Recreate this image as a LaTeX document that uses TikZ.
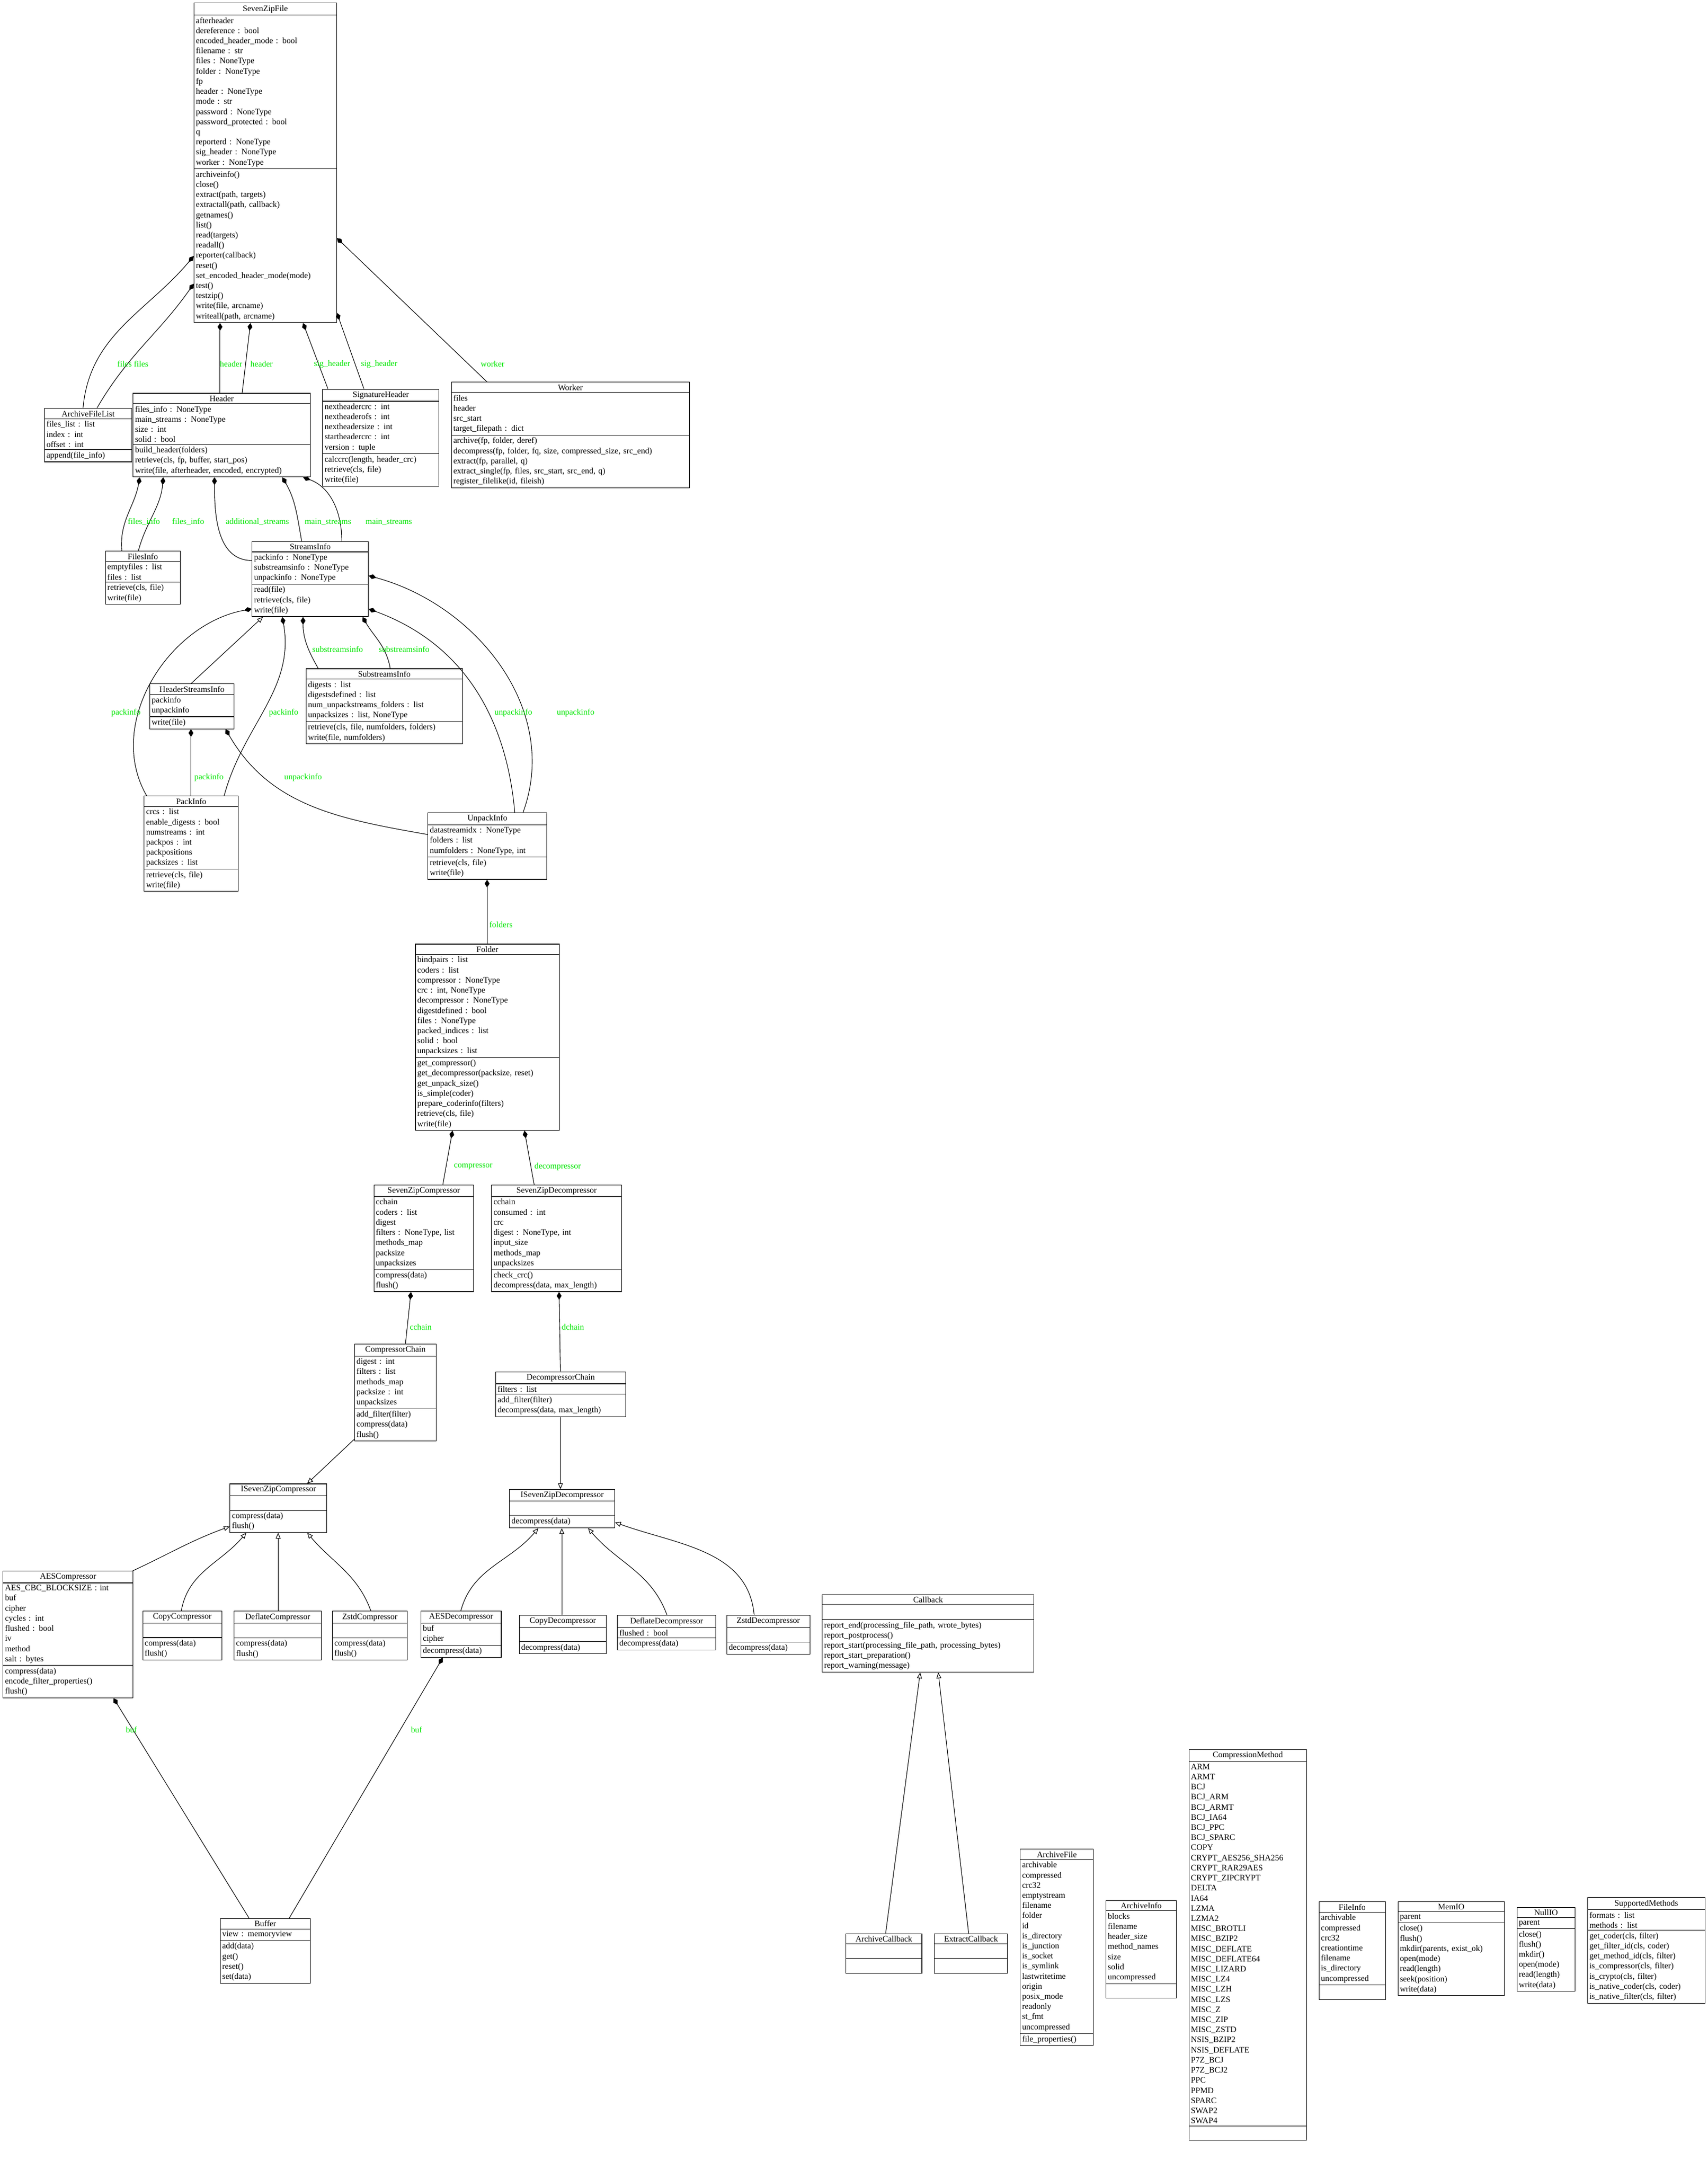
\documentclass[tikz,border=0pt]{standalone}
\usepackage{fontspec}
\setmainfont{Liberation Serif}
\usetikzlibrary{shapes.multipart,arrows.meta}
\definecolor{lblgreen}{RGB}{0,230,0}
\tikzset{
 uml/.style={draw,rectangle split,rectangle split parts=3,anchor=north west,align=left,inner sep=2pt,font=\fontsize{8.6}{10.4}\selectfont,line width=0.6pt},
 comp/.style={-{Diamond[length=8pt,width=5pt]},line width=0.6pt},
 inh/.style={-{Triangle[open,length=6pt,width=5pt]},line width=0.6pt},
 lbl/.style={text=lblgreen,font=\fontsize{8.6}{10}\selectfont,inner sep=1pt}
}
\newcommand\uc[7]{\pgfmathsetmacro\tw{#4*0.05*28.4528-4}\node[uml,text width=\tw pt] (#1) at (#2,#3) {{\centering #5\par}\nodepart{two}#6\nodepart{three}#7};}
\begin{document}
\catcode`\_=12
\begin{tikzpicture}[x=0.05cm,y=-0.05cm]
\useasboundingbox[fill=white] (0,0) rectangle (1234,1568);
\uc{SevenZipFile}{140}{2}{103}{SevenZipFile}{afterheader\\dereference : bool\\encoded_header_mode : bool\\filename : str\\files : NoneType\\folder : NoneType\\fp\\header : NoneType\\mode : str\\password : NoneType\\password_protected : bool\\q\\reporterd : NoneType\\sig_header : NoneType\\worker : NoneType}{archiveinfo()\\close()\\extract(path, targets)\\extractall(path, callback)\\getnames()\\list()\\read(targets)\\readall()\\reporter(callback)\\reset()\\set_encoded_header_mode(mode)\\test()\\testzip()\\write(file, arcname)\\writeall(path, arcname)}
\uc{ArchiveFileList}{32}{295}{63}{ArchiveFileList}{files_list : list\\index : int\\offset : int}{append(file_info)}
\uc{Header}{96}{284}{128}{Header}{files_info : NoneType\\main_streams : NoneType\\size : int\\solid : bool}{build_header(folders)\\retrieve(cls, fp, buffer, start_pos)\\write(file, afterheader, encoded, encrypted)}
\uc{SignatureHeader}{233}{281}{84}{SignatureHeader}{nextheadercrc : int\\nextheaderofs : int\\nextheadersize : int\\startheadercrc : int\\version : tuple}{calccrc(length, header_crc)\\retrieve(cls, file)\\write(file)}
\uc{Worker}{326}{276}{172}{Worker}{files\\header\\src_start\\target_filepath : dict}{archive(fp, folder, deref)\\decompress(fp, folder, fq, size, compressed_size, src_end)\\extract(fp, parallel, q)\\extract_single(fp, files, src_start, src_end, q)\\register_filelike(id, fileish)}
\uc{FilesInfo}{76}{398}{54}{FilesInfo}{emptyfiles : list\\files : list}{retrieve(cls, file)\\write(file)}
\uc{StreamsInfo}{182}{391}{84}{StreamsInfo}{packinfo : NoneType\\substreamsinfo : NoneType\\unpackinfo : NoneType}{read(file)\\retrieve(cls, file)\\write(file)}
\uc{HeaderStreamsInfo}{108}{494}{61}{HeaderStreamsInfo}{packinfo\\unpackinfo}{write(file)}
\uc{SubstreamsInfo}{221}{483}{113}{SubstreamsInfo}{digests : list\\digestsdefined : list\\num_unpackstreams_folders : list\\unpacksizes : list, NoneType}{retrieve(cls, file, numfolders, folders)\\write(file, numfolders)}
\uc{PackInfo}{104}{575}{68}{PackInfo}{crcs : list\\enable_digests : bool\\numstreams : int\\packpos : int\\packpositions\\packsizes : list}{retrieve(cls, file)\\write(file)}
\uc{UnpackInfo}{309}{587}{86}{UnpackInfo}{datastreamidx : NoneType\\folders : list\\numfolders : NoneType, int}{retrieve(cls, file)\\write(file)}
\uc{Folder}{300}{682}{104}{Folder}{bindpairs : list\\coders : list\\compressor : NoneType\\crc : int, NoneType\\decompressor : NoneType\\digestdefined : bool\\files : NoneType\\packed_indices : list\\solid : bool\\unpacksizes : list}{get_compressor()\\get_decompressor(packsize, reset)\\get_unpack_size()\\is_simple(coder)\\prepare_coderinfo(filters)\\retrieve(cls, file)\\write(file)}
\uc{SevenZipCompressor}{270}{856}{72}{SevenZipCompressor}{cchain\\coders : list\\digest\\filters : NoneType, list\\methods_map\\packsize\\unpacksizes}{compress(data)\\flush()}
\uc{SevenZipDecompressor}{355}{856}{94}{SevenZipDecompressor}{cchain\\consumed : int\\crc\\digest : NoneType, int\\input_size\\methods_map\\unpacksizes}{check_crc()\\decompress(data, max_length)}
\uc{CompressorChain}{256}{971}{59}{CompressorChain}{digest : int\\filters : list\\methods_map\\packsize : int\\unpacksizes}{add_filter(filter)\\compress(data)\\flush()}
\uc{DecompressorChain}{358}{991}{94}{DecompressorChain}{filters : list}{add_filter(filter)\\decompress(data, max_length)}
\uc{ISevenZipCompressor}{166}{1072}{70}{ISevenZipCompressor}{\strut}{compress(data)\\flush()}
\uc{ISevenZipDecompressor}{368}{1076}{76}{ISevenZipDecompressor}{\strut}{decompress(data)}
\uc{AESCompressor}{2}{1135}{94}{AESCompressor}{AES_CBC_BLOCKSIZE : int\\buf\\cipher\\cycles : int\\flushed : bool\\iv\\method\\salt : bytes}{compress(data)\\encode_filter_properties()\\flush()}
\uc{CopyCompressor}{103}{1164}{57}{CopyCompressor}{\strut}{compress(data)\\flush()}
\uc{DeflateCompressor}{169}{1164}{63}{DeflateCompressor}{\strut}{compress(data)\\flush()}
\uc{ZstdCompressor}{240}{1164}{54}{ZstdCompressor}{\strut}{compress(data)\\flush()}
\uc{AESDecompressor}{304}{1164}{58}{AESDecompressor}{buf\\cipher}{decompress(data)}
\uc{CopyDecompressor}{375}{1167}{63}{CopyDecompressor}{\strut}{decompress(data)}
\uc{DeflateDecompressor}{446}{1167}{71}{DeflateDecompressor}{flushed : bool}{decompress(data)}
\uc{ZstdDecompressor}{525}{1167}{60}{ZstdDecompressor}{\strut}{decompress(data)}
\uc{Callback}{594}{1152}{153}{Callback}{\strut}{report_end(processing_file_path, wrote_bytes)\\report_postprocess()\\report_start(processing_file_path, processing_bytes)\\report_start_preparation()\\report_warning(message)}
\uc{Buffer}{159}{1386}{65}{Buffer}{view : memoryview}{add(data)\\get()\\reset()\\set(data)}
\uc{ArchiveCallback}{611}{1397}{55}{ArchiveCallback}{\strut}{\strut}
\uc{ExtractCallback}{675}{1397}{53}{ExtractCallback}{\strut}{\strut}
\uc{ArchiveFile}{737}{1336}{53}{ArchiveFile}{archivable\\compressed\\crc32\\emptystream\\filename\\folder\\id\\is_directory\\is_junction\\is_socket\\is_symlink\\lastwritetime\\origin\\posix_mode\\readonly\\st_fmt\\uncompressed}{file_properties()}
\uc{ArchiveInfo}{799}{1373}{51}{ArchiveInfo}{blocks\\filename\\header_size\\method_names\\size\\solid\\uncompressed}{\strut}
\uc{CompressionMethod}{859}{1264}{85}{CompressionMethod}{ARM\\ARMT\\BCJ\\BCJ_ARM\\BCJ_ARMT\\BCJ_IA64\\BCJ_PPC\\BCJ_SPARC\\COPY\\CRYPT_AES256_SHA256\\CRYPT_RAR29AES\\CRYPT_ZIPCRYPT\\DELTA\\IA64\\LZMA\\LZMA2\\MISC_BROTLI\\MISC_BZIP2\\MISC_DEFLATE\\MISC_DEFLATE64\\MISC_LIZARD\\MISC_LZ4\\MISC_LZH\\MISC_LZS\\MISC_Z\\MISC_ZIP\\MISC_ZSTD\\NSIS_BZIP2\\NSIS_DEFLATE\\P7Z_BCJ\\P7Z_BCJ2\\PPC\\PPMD\\SPARC\\SWAP2\\SWAP4}{\strut}
\uc{FileInfo}{953}{1374}{48}{FileInfo}{archivable\\compressed\\crc32\\creationtime\\filename\\is_directory\\uncompressed}{\strut}
\uc{MemIO}{1010}{1374}{77}{MemIO}{parent}{close()\\flush()\\mkdir(parents, exist_ok)\\open(mode)\\read(length)\\seek(position)\\write(data)}
\uc{NullIO}{1096}{1378}{42}{NullIO}{parent}{close()\\flush()\\mkdir()\\open(mode)\\read(length)\\write(data)}
\uc{SupportedMethods}{1147}{1371}{85}{SupportedMethods}{formats : list\\methods : list}{get_coder(cls, filter)\\get_filter_id(cls, coder)\\get_method_id(cls, filter)\\is_compressor(cls, filter)\\is_crypto(cls, filter)\\is_native_coder(cls, coder)\\is_native_filter(cls, filter)}
% compositions
\draw[comp] (60,0 |- ArchiveFileList.north) to[out=85,in=230] (SevenZipFile.west |- 0,185);
\draw[comp] (70,0 |- ArchiveFileList.north) to[out=60,in=235] (SevenZipFile.west |- 0,205);
\node[lbl] (l1) at (90,263) {files}; \node[lbl] (l2) at (102,263) {files};
\draw[comp] (159,0 |- Header.north) -- (159,0 |- SevenZipFile.south);
\draw[comp] (175,0 |- Header.north) -- (181,0 |- SevenZipFile.south);
\node[lbl] (l3) at (167,263) {header}; \node[lbl] (l4) at (189,263) {header};
\draw[comp] (237,0 |- SignatureHeader.north) -- (219,0 |- SevenZipFile.south);
\draw[comp] (263,0 |- SignatureHeader.north) -- (SevenZipFile.east |- 0,226);
\node[lbl] (l5) at (240,263) {sig_header}; \node[lbl] (l6) at (274,263) {sig_header};
\draw[comp] (352,0 |- Worker.north) -- (SevenZipFile.east |- 0,172);
\node[lbl] (l7) at (356,263) {worker};
\draw[comp] (88,0 |- FilesInfo.north) to[out=95,in=260] (101,0 |- Header.south);
\draw[comp] (100,0 |- FilesInfo.north) to[out=75,in=265] (118,0 |- Header.south);
\node[lbl] (l8) at (104,377) {files_info}; \node[lbl] (l9) at (136,377) {files_info};
\draw[comp] (StreamsInfo.west |- 0,405) to[out=180,in=270] (155,0 |- Header.south);
\node[lbl] (l10) at (186,377) {additional_streams};
\draw[comp] (218,0 |- StreamsInfo.north) to[out=100,in=-60] (204,0 |- Header.south);
\draw[comp] (247,0 |- StreamsInfo.north) to[out=90,in=-20] (219,0 |- Header.south);
\node[lbl] (l11) at (237,377) {main_streams}; \node[lbl] (l12) at (281,377) {main_streams};
\draw[comp] (230,0 |- SubstreamsInfo.north) to[out=120,in=-90] (219,0 |- StreamsInfo.south);
\draw[comp] (282,0 |- SubstreamsInfo.north) to[out=100,in=-60] (262,0 |- StreamsInfo.south);
\node[lbl] (l13) at (244,469) {substreamsinfo}; \node[lbl] (l14) at (292,469) {substreamsinfo};
\draw[comp] (106,0 |- PackInfo.north) to[out=120,in=190] (StreamsInfo.west |- 0,440);
\node[lbl] (l15) at (91,515) {packinfo};
\draw[comp] (162,0 |- PackInfo.north) to[out=75,in=-80] (204,0 |- StreamsInfo.south);
\node[lbl] (l16) at (205,515) {packinfo};
\draw[comp] (372,0 |- UnpackInfo.north) to[out=95,in=-20] (StreamsInfo.east |- 0,440);
\draw[comp] (378,0 |- UnpackInfo.north) to[out=70,in=-15] (StreamsInfo.east |- 0,416);
\node[lbl] (l17) at (371,515) {unpackinfo}; \node[lbl] (l18) at (416,515) {unpackinfo};
\draw[inh] (138,0 |- HeaderStreamsInfo.north) -- (190,0 |- StreamsInfo.south);
\draw[comp] (138,0 |- PackInfo.north) -- (138,0 |- HeaderStreamsInfo.south);
\node[lbl] (l19) at (151,562) {packinfo};
\draw[comp] (UnpackInfo.west |- 0,603) to[out=170,in=-60] (163,0 |- HeaderStreamsInfo.south);
\node[lbl] (l20) at (219,562) {unpackinfo};
\draw[comp] (352,0 |- Folder.north) -- (352,0 |- UnpackInfo.south);
\node[lbl] (l21) at (362,668) {folders};
\draw[comp] (320,0 |- SevenZipCompressor.north) -- (327,0 |- Folder.south);
\node[lbl] (l22) at (342,843) {compressor};
\draw[comp] (386,0 |- SevenZipDecompressor.north) -- (379,0 |- Folder.south);
\node[lbl] (l23) at (403,843) {decompressor};
\draw[comp] (293,0 |- CompressorChain.north) -- (297,0 |- SevenZipCompressor.south);
\node[lbl] (l24) at (304,959) {cchain};
\draw[comp] (405,0 |- DecompressorChain.north) -- (404,0 |- SevenZipDecompressor.south);
\node[lbl] (l25) at (414,959) {dchain};
\draw[inh] (CompressorChain.west |- 0,1040) -- (222,0 |- ISevenZipCompressor.north);
\draw[inh] (405,0 |- DecompressorChain.south) -- (405,0 |- ISevenZipDecompressor.north);
\draw[inh] (96,0 |- AESCompressor.north) to[out=25,in=200] (ISevenZipCompressor.west |- 0,1103);
\draw[inh] (131,0 |- CopyCompressor.north) to[out=80,in=230] (178,0 |- ISevenZipCompressor.south);
\draw[inh] (201,0 |- DeflateCompressor.north) -- (201,0 |- ISevenZipCompressor.south);
\draw[inh] (268,0 |- ZstdCompressor.north) to[out=110,in=-50] (222,0 |- ISevenZipCompressor.south);
\draw[inh] (333,0 |- AESDecompressor.north) to[out=75,in=230] (389,0 |- ISevenZipDecompressor.south);
\draw[inh] (406,0 |- CopyDecompressor.north) -- (406,0 |- ISevenZipDecompressor.south);
\draw[inh] (482,0 |- DeflateDecompressor.north) to[out=110,in=-50] (425,0 |- ISevenZipDecompressor.south);
\draw[inh] (545,0 |- ZstdDecompressor.north) to[out=95,in=-20] (ISevenZipDecompressor.east |- 0,1100);
\draw[comp] (180,0 |- Buffer.north) -- (82,0 |- AESCompressor.south);
\node[lbl] (l26) at (95,1250) {buf};
\draw[comp] (209,0 |- Buffer.north) -- (320,0 |- AESDecompressor.south);
\node[lbl] (l27) at (301,1250) {buf};
\draw[inh] (640,0 |- ArchiveCallback.north) -- (665,0 |- Callback.south);
\draw[inh] (700,0 |- ExtractCallback.north) -- (678,0 |- Callback.south);
\end{tikzpicture}
\end{document}
